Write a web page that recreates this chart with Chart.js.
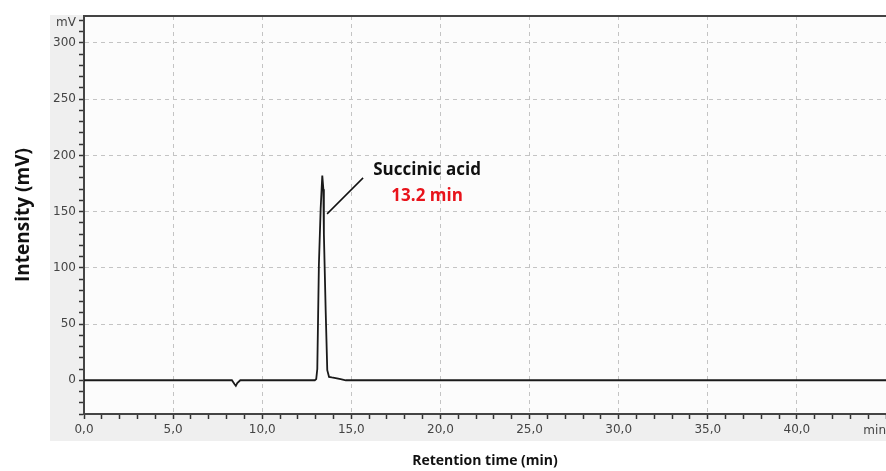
<!DOCTYPE html>
<html>
<head>
<meta charset="utf-8">
<title>Succinic acid chromatogram</title>
<script src="https://cdn.jsdelivr.net/npm/chart.js@4/dist/chart.umd.min.js"></script>
<style>
  html, body { margin: 0; padding: 0; background: #fff; }
  canvas { display: block; }
</style>
</head>
<body>
<canvas id="chromChart" width="886" height="471"></canvas>
<script>
// ===== Data =====
const retentionTime = [0, 8.3, 8.45, 8.52, 8.6, 8.77, 12.95, 13.03, 13.09, 13.18, 13.28, 13.37, 13.43, 13.46, 13.56, 13.65, 13.75, 13.9, 14.12, 14.4, 14.69, 45];
const intensity     = [0, 0,   -3.5, -5,   -2.5, 0,    0,     1,     10,    103,   153,   182,   170,   130,   62,    9,     3,     2.5,  2,     1,    0,     0];

const xTickValues = [0, 5, 10, 15, 20, 25, 30, 35, 40];
const xTickLabels = ["0,0", "5,0", "10,0", "15,0", "20,0", "25,0", "30,0", "35,0", "40,0"];
const yTickValues = [0, 50, 100, 150, 200, 250, 300];
const yTickLabels = ["0", "50", "100", "150", "200", "250", "300"];

const peakName = "Succinic acid";
const peakTime = "13.2 min";

// ===== Plugins =====
// fundo cinza + borda superior + unidades
const frame = {
  id: "frame",
  beforeDraw(chart) {
    const { ctx, chartArea: a, width } = chart;
    ctx.save();
    ctx.fillStyle = "#fff";
    ctx.fillRect(0, 0, width, chart.height);
    ctx.fillStyle = "#efefef";
    ctx.fillRect(50, a.top - 1, width - 50, 442 - a.top);
    ctx.fillStyle = "#fcfcfc";
    ctx.fillRect(a.left, a.top, a.right - a.left, a.bottom - a.top);
    ctx.restore();
  },
  afterDraw(chart) {
    const { ctx, chartArea: a } = chart;
    ctx.save();
    ctx.strokeStyle = "#444";
    ctx.lineWidth = 2;
    ctx.beginPath();
    ctx.moveTo(a.left, a.top);
    ctx.lineTo(a.right, a.top);
    ctx.stroke();

    ctx.fillStyle = "#444";
    ctx.font = "12px 'DejaVu Sans'";
    ctx.textBaseline = "middle";
    ctx.textAlign = "right";
    ctx.fillText("mV", a.left - 8, a.top + 7);
    ctx.fillText("min", a.right, a.bottom + 17);
    ctx.restore();
  }
};

// rotulo do pico
const peakNote = {
  id: "peakNote",
  afterDatasetsDraw(chart) {
    const { ctx, scales: { x, y } } = chart;
    ctx.save();
    ctx.strokeStyle = "#111";
    ctx.lineWidth = 1.5;
    ctx.beginPath();
    ctx.moveTo(x.getPixelForValue(13.64), y.getPixelForValue(148));
    ctx.lineTo(x.getPixelForValue(15.66), y.getPixelForValue(180));
    ctx.stroke();

    ctx.textAlign = "center";
    ctx.textBaseline = "middle";
    ctx.font = "bold 17px 'Open Sans'";
    ctx.fillStyle = "#111";
    ctx.fillText(peakName, x.getPixelForValue(19.25), y.getPixelForValue(187));
    ctx.fillStyle = "#e8131b";
    ctx.fillText(peakTime, x.getPixelForValue(19.25), y.getPixelForValue(164));
    ctx.restore();
  }
};

const isMajor = (list, v) => list.includes(v) && v !== 0;

// ===== Grafico =====
const ctx = document.getElementById("chromChart").getContext("2d");
new Chart(ctx, {
  type: "line",
  data: {
    datasets: [{
      data: retentionTime.map((t, i) => ({ x: t, y: intensity[i] })),
      borderColor: "#1a1a1a",
      borderWidth: 1.8,
      pointRadius: 0,
      tension: 0,
      fill: false
    }]
  },
  options: {
    responsive: false,
    animation: false,
    layout: { padding: { top: 16, left: 0, right: 0, bottom: 0 } },
    plugins: {
      legend: { display: false },
      tooltip: { enabled: false }
    },
    scales: {
      x: {
        type: "linear",
        min: 0,
        max: 45,
        afterBuildTicks: (scale) => {
          const t = [];
          for (let v = 0; v <= 45; v++) t.push({ value: v });
          scale.ticks = t;
        },
        afterFit: (scale) => {
          scale.height = 57;
          scale.paddingRight = 0;
        },
        ticks: {
          autoSkip: false,
          maxRotation: 0,
          padding: 4,
          color: "#444",
          font: { family: "DejaVu Sans", size: 12 },
          callback: (v) => {
            const i = xTickValues.indexOf(v);
            return i >= 0 ? xTickLabels[i] : "";
          }
        },
        grid: {
          color: (c) => isMajor(xTickValues, c.tick && c.tick.value) ? "#c4c4c4" : "rgba(0,0,0,0)",
          tickColor: "#333",
          tickLength: 5,
          tickWidth: 1.5
        },
        border: { color: "#444", width: 2, dash: [4, 4] },
        title: {
          display: true,
          text: "Retention time (min)",
          color: "#111",
          font: { family: "Open Sans", size: 14, weight: "bold" },
          padding: { top: 0, bottom: 2 }
        }
      },
      y: {
        type: "linear",
        min: -30,
        max: 324,
        afterBuildTicks: (scale) => {
          const t = [];
          for (let v = -30; v <= 320; v += 10) t.push({ value: v });
          scale.ticks = t;
        },
        afterFit: (scale) => { scale.width = 84; },
        ticks: {
          autoSkip: false,
          padding: 3,
          color: "#444",
          font: { family: "DejaVu Sans", size: 12 },
          callback: (v) => {
            const i = yTickValues.indexOf(v);
            return i >= 0 ? yTickLabels[i] : "";
          }
        },
        grid: {
          color: (c) => isMajor(yTickValues, c.tick && c.tick.value) ? "#c4c4c4" : "rgba(0,0,0,0)",
          tickColor: "#333",
          tickLength: 5,
          tickWidth: 1.5
        },
        border: { color: "#444", width: 2, dash: [4, 4] },
        title: {
          display: true,
          text: "Intensity (mV)",
          color: "#111",
          font: { family: "Open Sans", size: 19, weight: "bold" },
          padding: { top: 12, bottom: 0 }
        }
      }
    }
  },
  plugins: [frame, peakNote]
});
</script>
</body>
</html>
